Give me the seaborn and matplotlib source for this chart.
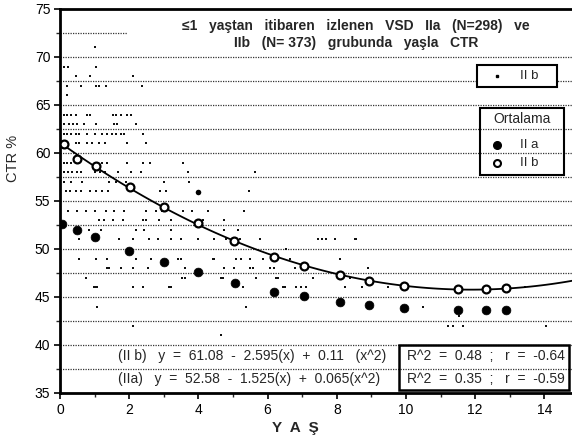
import numpy as np
import pandas as pd
import matplotlib
matplotlib.use("Agg")
import matplotlib.pyplot as plt
from matplotlib.patches import Rectangle
import seaborn as sns

# ---- data ----
# raw individual IIb observations (age, CTR %), grouped by CTR row
dot_rows = {
    71: [1.0],
    69: [0.12, 0.24, 1.03],
    68: [0.47, 0.86, 2.12],
    67: [0.21, 0.6, 1.03, 1.13, 1.32, 2.37],
    66: [0.2],
    64: [0.12, 0.21, 0.31, 0.45, 0.79, 0.86, 1.52, 1.61, 1.76, 1.95, 2.05],
    63: [0.12, 0.26, 0.38, 0.49, 0.7, 1.03, 1.57, 1.66, 2.19],
    62: [0.12, 0.21, 0.31, 0.45, 0.55, 0.79, 1.0, 1.2, 1.35, 1.5, 1.62, 1.75, 1.85, 2.4],
    61: [0.45, 0.55, 0.79, 0.93, 1.13, 1.3, 1.95, 2.48],
    59: [0.12, 0.21, 0.31, 0.45, 0.55, 1.0, 1.1, 1.2, 1.35, 1.95, 2.4, 2.6, 3.56],
    58: [0.12, 0.24, 0.36, 0.48, 0.6, 1.0, 1.15, 1.3, 1.67, 2.05, 2.33, 3.7, 5.65],
    57: [0.12, 0.31, 0.65, 1.42, 1.61, 1.9, 3.0, 3.74],
    56: [0.16, 0.3, 0.45, 0.6, 0.86, 1.05, 1.2, 1.4, 2.9, 3.05, 5.45],
    54: [0.24, 0.5, 0.75, 1.0, 1.32, 1.56, 1.85, 2.48, 2.77, 2.96, 3.55, 3.82, 4.27, 5.33],
    53: [1.13, 1.27, 1.52, 1.81, 2.39, 2.48, 2.86, 3.2, 3.98, 4.12, 4.75],
    52: [0.84, 1.18, 2.19, 2.43, 3.2, 4.75, 5.14],
    51: [0.55, 1.03, 1.71, 2.1, 2.58, 2.82, 3.2, 3.5, 3.98, 4.46, 4.8, 5.04, 5.19, 5.77,
         7.46, 7.56, 7.7, 7.94, 8.52, 8.57],
    50: [6.54],
    49: [0.55, 1.03, 1.37, 2.19, 2.63, 3.4, 3.5, 4.41, 4.46, 5.09, 5.24, 5.48, 5.86, 6.1, 6.64, 8.09],
    48: [1.37, 1.42, 1.76, 2.1, 2.53, 3.6, 4.75, 5.04, 5.48, 5.57, 6.06, 6.2, 6.78, 8.91],
    47: [0.74, 3.54, 3.6, 4.66, 4.7, 5.67, 6.25, 6.3, 7.31, 8.38],
    46: [0.99, 1.03, 1.08, 2.1, 2.39, 3.16, 3.2, 5.28, 6.44, 6.5, 6.83, 6.98, 7.12, 8.23, 8.72, 9.49, 13.45],
    44: [1.08, 5.38, 10.5],
    43: [11.52],
    42: [2.1, 11.23, 11.37, 11.66, 14.06],
    41: [4.66],
}
big_dot_age = [3.98]
big_dot_ctr = [55.9]

# group means
mean_age_IIa = [0.05, 0.5, 1.0, 2.0, 3.0, 4.0, 5.07, 6.2, 7.04, 8.1, 8.93, 9.94, 11.5, 12.3, 12.9]
mean_ctr_IIa = [52.6, 52.0, 51.2, 49.8, 48.65, 47.6, 46.5, 45.5, 45.1, 44.5, 44.2, 43.85, 43.65, 43.65, 43.65]
mean_age_IIb = [0.12, 0.5, 1.03, 2.03, 3.0, 3.98, 5.04, 6.2, 7.04, 8.1, 8.93, 9.94, 11.5, 12.3, 12.9]
mean_ctr_IIb = [60.9, 59.4, 58.65, 56.45, 54.4, 52.7, 50.8, 49.2, 48.2, 47.3, 46.7, 46.15, 45.8, 45.8, 45.9]

title_lines = ["\u22641   yaştan   itibaren   izlenen   VSD   IIa   (N=298)   ve",
               "IIb   (N= 373)   grubunda   yaşla   CTR"]
eq_lines = ["(II b)   y  =  61.08  -  2.595(x)  +  0.11   (x^2)",
            "(IIa)   y  =  52.58  -  1.525(x)  +  0.065(x^2)"]
stat_lines = ["R^2  =  0.48  ;   r  =  -0.64",
              "R^2  =  0.35  ;   r  =  -0.59"]
legend_dots_label = "II b"
legend_means_title = "Ortalama"
legend_means_labels = ["II a", "II b"]
x_ticks = [0, 2, 4, 6, 8, 10, 12, 14]
y_ticks = [35, 40, 45, 50, 55, 60, 65, 70, 75]

# ---- frames ----
dots = pd.DataFrame([(a, c) for c, ages in dot_rows.items() for a in ages], columns=["age", "ctr"])
means_a = pd.DataFrame({"age": mean_age_IIa, "ctr": mean_ctr_IIa})
means_b = pd.DataFrame({"age": mean_age_IIb, "ctr": mean_ctr_IIb})

sns.set_theme(style="white")
plt.rcParams["font.family"] = ["Liberation Sans", "DejaVu Sans"]

fig = plt.figure(figsize=(5.72, 4.44), dpi=100)
ax = fig.add_axes([0.1049, 0.1149, 0.8951, 0.8649])
ax.set_xlim(0, 14.8)
ax.set_ylim(35, 75)

# grid lines every 2.5
for g in np.arange(37.5, 72.6, 2.5):
    xmax = 0.13 if g > 72 else 1.0
    ax.axhline(g, xmin=0, xmax=xmax, color="#333333", lw=0.9, ls=(0, (1, 1)), zorder=1)

# raw dots
sns.scatterplot(data=dots, x="age", y="ctr", ax=ax, marker="s", s=2.2, color="#111111",
                linewidth=0, zorder=3, legend=False)
sns.scatterplot(x=big_dot_age, y=big_dot_ctr, ax=ax, marker="o", s=16, color="black",
                linewidth=0, zorder=3, legend=False)

# fitted curve for IIb
sns.regplot(data=means_b, x="age", y="ctr", ax=ax, order=2, ci=None, scatter=False,
            truncate=False, line_kws=dict(color="black", lw=1.3, zorder=4))

# mean markers
sns.scatterplot(data=means_a, x="age", y="ctr", ax=ax, marker="o", s=40, color="black",
                edgecolor="black", linewidth=0.5, zorder=5, legend=False)
sns.scatterplot(data=means_b, x="age", y="ctr", ax=ax, marker="o", s=32, color="white",
                edgecolor="black", linewidth=1.6, zorder=5, legend=False)

# axes styling
for s in ["top", "left", "bottom"]:
    ax.spines[s].set_visible(True)
    ax.spines[s].set_color("black")
    ax.spines[s].set_linewidth(2)
ax.spines["right"].set_visible(False)
ax.set_xticks(x_ticks)
ax.set_xticks(np.arange(1, 15, 2), minor=True)
ax.set_yticks(y_ticks)
ax.set_yticks(np.arange(37.5, 75, 5), minor=True)
ax.tick_params(axis="both", which="major", direction="out", length=4, width=1.2,
               labelsize=10, colors="black", pad=3, bottom=True, left=True)
ax.tick_params(axis="both", which="minor", direction="out", length=3, width=1.0,
               bottom=True, left=True)
ax.set_xlabel("Y  A  Ş", fontsize=11, fontweight="bold")
ax.xaxis.set_label_coords(0.46, -0.073)
ax.set_ylabel("CTR %", fontsize=10.5)
ax.yaxis.set_label_coords(-0.078, 0.61)

# title
ax.text(8.55, 73.2, title_lines[0], ha="center", va="center", fontsize=10, fontweight="bold")
ax.text(8.55, 71.45, title_lines[1], ha="center", va="center", fontsize=10, fontweight="bold")

# equations
ax.text(1.68, 38.85, eq_lines[0], ha="left", va="center", fontsize=10)
ax.text(1.68, 36.45, eq_lines[1], ha="left", va="center", fontsize=10)
ax.add_patch(Rectangle((9.8, 35.3), 4.91, 4.7, fill=False, ec="black", lw=1.8,
                       zorder=6, clip_on=False))
ax.text(10.03, 38.85, stat_lines[0], ha="left", va="center", fontsize=10)
ax.text(10.03, 36.45, stat_lines[1], ha="left", va="center", fontsize=10)

# legend 1 (raw dots) - drawn in axes fraction
tA = ax.transAxes
ax.add_patch(Rectangle((0.814, 0.797), 0.157, 0.057, transform=tA, fc="white",
                       ec="black", lw=1.5, zorder=7))
ax.plot([0.854], [0.826], transform=tA, ls="none", marker="s", ms=1.6, color="black",
        zorder=8, clip_on=False)
ax.text(0.898, 0.826, legend_dots_label, transform=tA, ha="left", va="center",
        fontsize=9.5, zorder=8)

# legend 2 (means)
ax.add_patch(Rectangle((0.820, 0.568), 0.164, 0.174, transform=tA, fill=False,
                       ec="black", lw=1.5, zorder=7))
ax.text(0.902, 0.714, legend_means_title, transform=tA, ha="center", va="center",
        fontsize=10, zorder=8)
ax.plot([0.854], [0.645], transform=tA, ls="none", marker="o", ms=5.5, color="black",
        zorder=8, clip_on=False)
ax.text(0.898, 0.645, legend_means_labels[0], transform=tA, ha="left", va="center",
        fontsize=9.5, zorder=8)
ax.plot([0.854], [0.598], transform=tA, ls="none", marker="o", ms=5, mfc="white",
        mec="black", mew=1.5, zorder=8, clip_on=False)
ax.text(0.898, 0.598, legend_means_labels[1], transform=tA, ha="left", va="center",
        fontsize=9.5, zorder=8)

fig.savefig("out.png", dpi=100, facecolor="white")
